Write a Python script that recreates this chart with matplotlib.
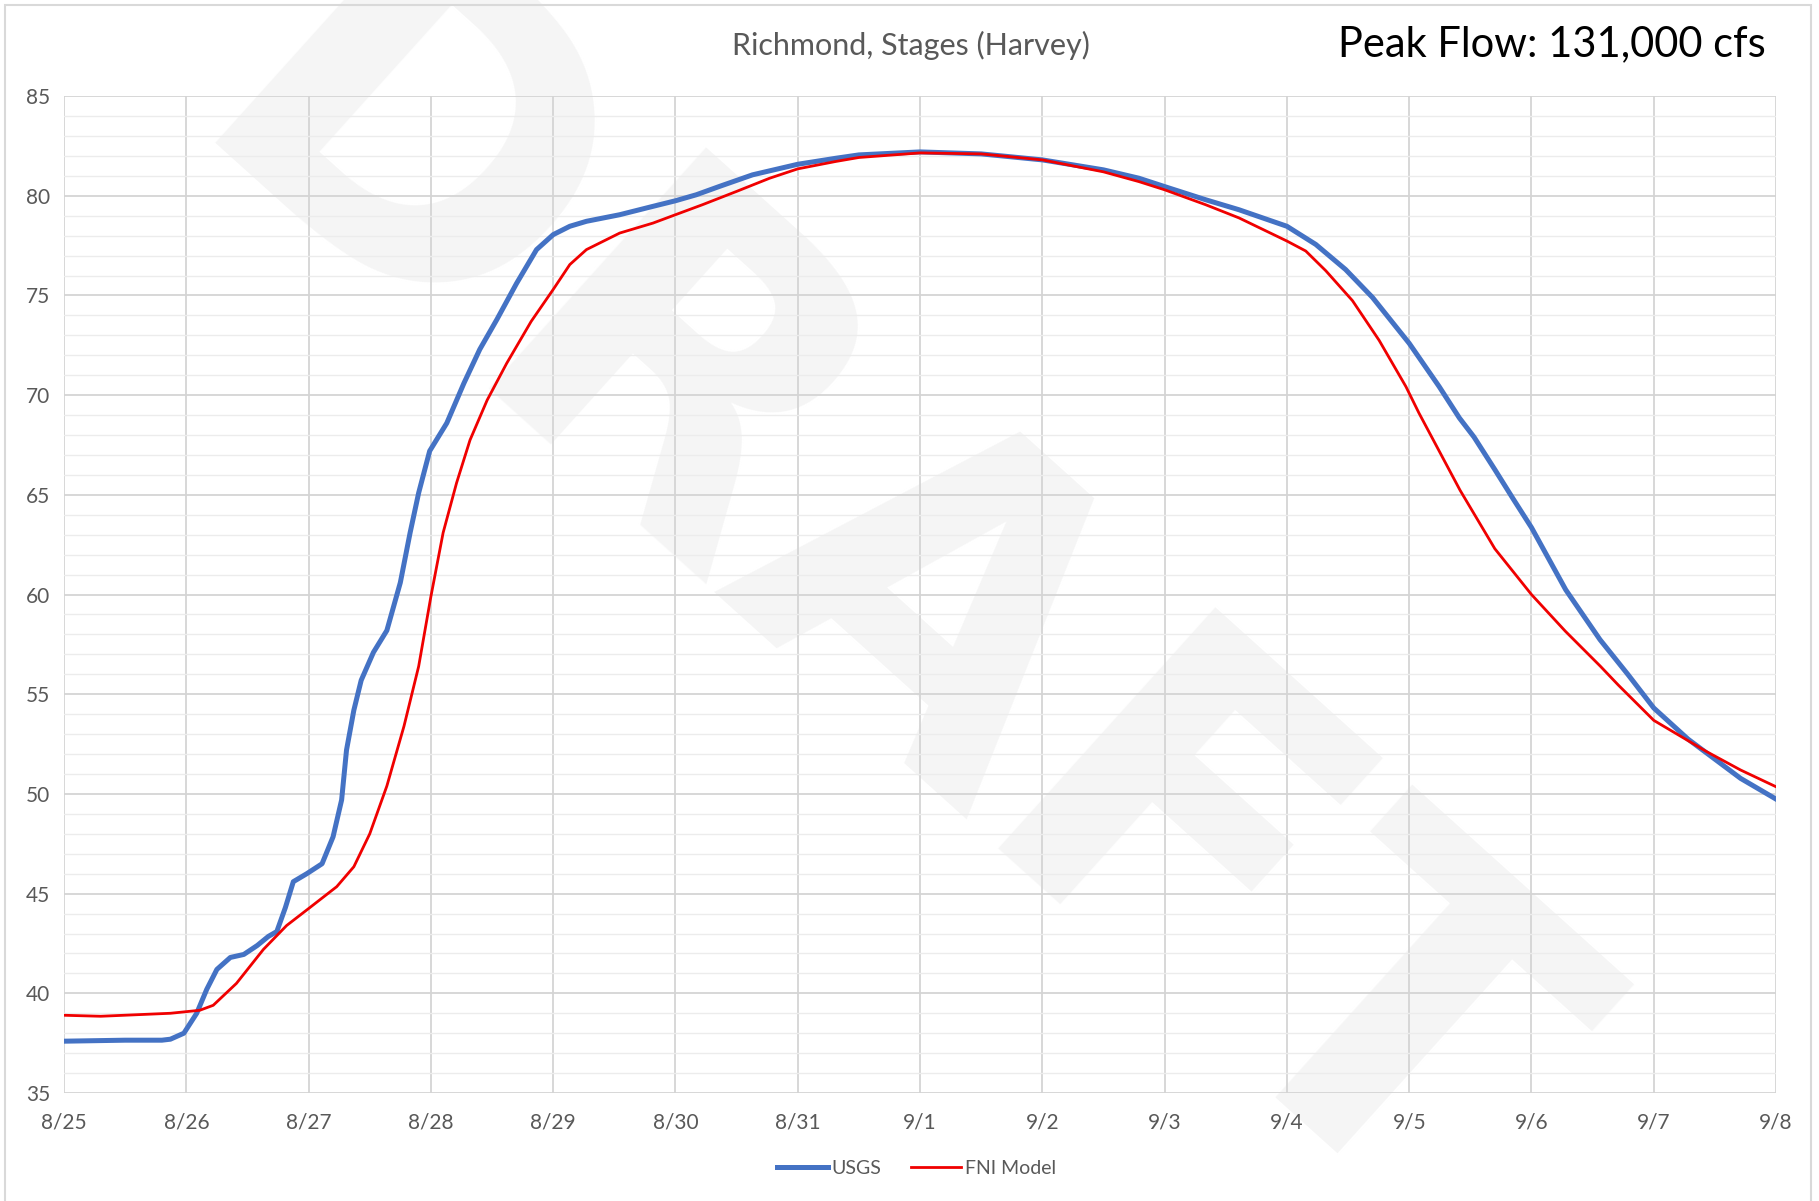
import matplotlib
matplotlib.use("Agg")
import matplotlib.pyplot as plt
from matplotlib.patches import Rectangle

plt.rcParams['font.family'] = ['Lato', 'DejaVu Sans']

# x = days after 8/25, y = stage (ft)
usgs_day = [0.0, 0.5, 0.8, 0.87, 0.98, 1.085, 1.167, 1.25, 1.36, 1.47, 1.58, 1.67,
            1.74, 1.81, 1.875, 1.985, 2.11, 2.20, 2.27, 2.31, 2.37, 2.43, 2.53,
            2.64, 2.75, 2.83, 2.90, 2.99, 3.13, 3.27, 3.40, 3.54, 3.70, 3.864,
            4.0, 4.136, 4.272, 4.544, 4.816, 5.0, 5.17, 5.36, 5.63, 6.0, 6.31,
            6.5, 7.0, 7.5, 8.0, 8.5, 8.79, 9.0, 9.336, 9.608, 10.0, 10.236,
            10.48, 10.70, 11.0, 11.245, 11.41, 11.53, 11.70, 11.85, 12.0, 12.28,
            12.56, 12.79, 13.0, 13.28, 13.71, 14.0]
usgs_stage = [37.6, 37.65, 37.65, 37.7, 38.0, 39.0, 40.2, 41.2, 41.8, 41.95, 42.4,
              42.85, 43.1, 44.3, 45.6, 46.0, 46.5, 47.85, 49.7, 52.2, 54.2, 55.7,
              57.1, 58.2, 60.6, 63.1, 65.1, 67.2, 68.6, 70.6, 72.3, 73.8, 75.6,
              77.3, 78.05, 78.47, 78.72, 79.05, 79.47, 79.75, 80.05, 80.47, 81.05,
              81.58, 81.88, 82.05, 82.2, 82.1, 81.8, 81.3, 80.88, 80.46, 79.8,
              79.3, 78.47, 77.56, 76.3, 74.9, 72.6, 70.43, 68.86, 67.9, 66.27,
              64.8, 63.36, 60.24, 57.74, 55.98, 54.31, 52.75, 50.78, 49.74]

fni_day = [0.0, 0.3, 0.87, 1.11, 1.22, 1.41, 1.63, 1.82, 2.01, 2.23, 2.37, 2.50,
           2.64, 2.78, 2.90, 3.0, 3.10, 3.21, 3.32, 3.46, 3.62, 3.82, 4.0, 4.136,
           4.272, 4.544, 4.816, 5.0, 5.22, 5.50, 5.77, 6.0, 6.31, 6.5, 7.0, 7.5,
           8.0, 8.5, 8.79, 9.0, 9.336, 9.608, 10.0, 10.154, 10.318, 10.536,
           10.754, 10.973, 11.08, 11.416, 11.70, 12.0, 12.277, 12.564, 12.71,
           13.0, 13.43, 13.71, 14.0]
fni_stage = [38.9, 38.85, 39.0, 39.15, 39.4, 40.5, 42.2, 43.4, 44.3, 45.35, 46.35,
             48.0, 50.4, 53.4, 56.4, 59.9, 63.1, 65.6, 67.75, 69.75, 71.6, 73.7,
             75.3, 76.55, 77.3, 78.13, 78.63, 79.05, 79.55, 80.22, 80.88, 81.35,
             81.72, 81.92, 82.15, 82.1, 81.8, 81.2, 80.71, 80.3, 79.55, 78.89,
             77.73, 77.23, 76.24, 74.74, 72.75, 70.43, 69.1, 65.23, 62.3, 60.0,
             58.16, 56.4, 55.46, 53.69, 52.13, 51.2, 50.36]

date_labels = ['8/25', '8/26', '8/27', '8/28', '8/29', '8/30', '8/31', '9/1',
               '9/2', '9/3', '9/4', '9/5', '9/6', '9/7', '9/8']

fig = plt.figure(figsize=(18.19, 12.01), dpi=100)
fig.patch.set_facecolor('white')
ax = fig.add_axes([0.0352, 0.0899, 0.9412, 0.8301])
ax.set_facecolor('none')

# light frame of the chart area
fig.patches.append(Rectangle((5 / 1819, -0.01), 1806 / 1819, 1 - 5 / 1201 + 0.01,
                             transform=fig.transFigure, fill=False,
                             edgecolor='#d9d9d9', linewidth=1.5))

# DRAFT watermark, behind grid and lines
ax.text(0.48, 0.495, 'DRAFT', transform=fig.transFigure, fontsize=320,
        fontweight='bold', color='#f5f5f5', rotation=-42, ha='center',
        va='center', family='DejaVu Sans', zorder=0)

ax.plot(usgs_day, usgs_stage, color='#4472C4', linewidth=3.6, label='USGS', zorder=3)
ax.plot(fni_day, fni_stage, color='#F00000', linewidth=2.0, label='FNI Model', zorder=4)

ax.set_xlim(0, 14)
ax.set_ylim(35, 85)
ax.set_xticks(range(15))
ax.set_xticklabels(date_labels)
ax.set_yticks(range(35, 90, 5))
ax.set_yticks(range(35, 86), minor=True)
ax.set_axisbelow(True)
ax.grid(which='major', color='#d4d4d4', linewidth=1.3)
ax.grid(which='minor', axis='y', color='#ececec', linewidth=1.0)
for s in ax.spines.values():
    s.set_visible(False)
ax.tick_params(which='both', length=0, colors='#595959', labelsize=15)
ax.tick_params(axis='x', pad=14)
ax.tick_params(axis='y', pad=10)

fig.text(0.501, 0.962, 'Richmond, Stages (Harvey)', fontsize=22, color='#595959',
         ha='center', va='center')
fig.text(0.971, 0.963, 'Peak Flow: 131,000 cfs', fontsize=30, color='black',
         ha='right', va='center')

fig.legend(loc='center', bbox_to_anchor=(0.504, 0.027), ncol=2, frameon=False,
           fontsize=14, handlelength=2.6, columnspacing=1.5, handletextpad=0.2,
           labelcolor='#595959')

fig.savefig('out.png', dpi=100)
